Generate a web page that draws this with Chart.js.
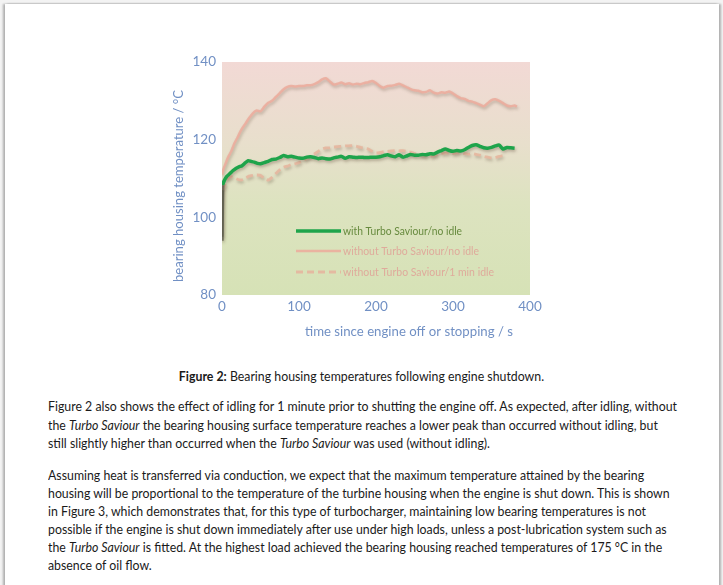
<!DOCTYPE html>
<html><head><meta charset="utf-8">
<script src="https://cdn.jsdelivr.net/npm/chart.js@4"></script>
<style>
html,body{margin:0;padding:0;width:723px;height:585px;overflow:hidden;background:#f3f3f3;}
#page{position:absolute;left:5px;top:4px;width:714px;height:600px;background:#fff;box-shadow:-2px 0 2px rgba(0,0,0,0.28),2px 0 2px rgba(0,0,0,0.28);}
#c{position:absolute;left:0;top:0;}
.t{position:absolute;left:48px;white-space:nowrap;font-family:Lato,'Open Sans',sans-serif;font-size:13.4px;color:#1a1a1a;line-height:18px;transform-origin:0 50%;}
.cap{left:0;width:723px;text-align:center;}
</style></head>
<body>
<div id="page"></div>
<canvas id="c" width="723" height="345"></canvas>
<div class="t cap" style="top:367px">Figure 2: Bearing housing temperatures following engine shutdown.</div>
<div class="t L" style="top:397px">Figure 2 also shows the effect of idling for 1 minute prior to shutting the engine off. As expected, after idling, without</div>
<div class="t L" style="top:415.5px">the <i>Turbo Saviour</i> the bearing housing surface temperature reaches a lower peak than occurred without idling, but</div>
<div class="t L" style="top:434px">still slightly higher than occurred when the <i>Turbo Saviour</i> was used (without idling).</div>
<div class="t L" style="top:466px">Assuming heat is transferred via conduction, we expect that the maximum temperature attained by the bearing</div>
<div class="t L" style="top:484px">housing will be proportional to the temperature of the turbine housing when the engine is shut down. This is shown</div>
<div class="t L" style="top:502px">in Figure 3, which demonstrates that, for this type of turbocharger, maintaining low bearing temperatures is not</div>
<div class="t L" style="top:520px">possible if the engine is shut down immediately after use under high loads, unless a post-lubrication system such as</div>
<div class="t L" style="top:538px">the <i>Turbo Saviour</i> is fitted. At the highest load achieved the bearing housing reached temperatures of 175 °C in the</div>
<div class="t L" style="top:556px">absence of oil flow.</div>
<script>
// ---- data ----
const seriesLabels = ['with Turbo Saviour/no idle','without Turbo Saviour/no idle','without Turbo Saviour/1 min idle'];
const xTicks = [0,100,200,300,400];
const yTicks = [80,100,120,140];

const greenTime = [0,1,3,6,10,14,18,22,26,30,34,38,42,46,50,55,60,65,70,75,80,85,90,95,100,105,110,115,120,125,130,135,140,145,150,155,160,165,170,175,180,185,190,195,200,205,210,215,220,225,230,235,240,245,250,255,260,265,270,275,280,285,290,295,300,305,310,315,320,325,330,335,340,345,350,355,360,365,370,375,380];
const greenTemp = [94,108.3,109.5,110.5,111.2,112,112.6,113,113.3,114,114.6,114.4,114.2,113.9,113.8,114.1,114.4,114.9,115,115.4,115.9,115.6,115.7,115.5,115.3,115.2,115.5,115.6,115.4,115.1,115.3,115.1,115.0,115.3,115.5,115.7,115.2,115.6,115.5,115.4,115.5,115.4,115.4,115.5,115.5,115.6,115.9,116.1,115.8,115.6,116.1,115.5,115.8,116.2,116.0,116.0,116.2,116.1,116.4,116.3,116.8,117.2,117.6,117.2,117.0,117.2,117.1,117.4,118.0,118.5,118.7,118.3,117.9,117.8,118.0,118.4,118.6,117.6,118.0,117.9,117.8];

const pinkTime = [0,2,5,8,12,16,20,25,30,35,40,45,50,55,60,65,70,75,80,85,90,95,100,105,110,115,120,125,130,135,140,145,150,155,160,165,170,175,180,185,190,195,200,205,210,215,220,225,230,235,240,245,250,255,260,265,270,275,280,285,290,295,300,305,310,315,320,325,330,335,340,345,350,355,360,365,370,375,380,383];
const pinkTemp = [111,112.5,114,115.5,117,119,120.5,122.5,124,125.5,126.8,127.5,127.3,128.5,129.5,130,131,132,133,133.6,133.8,133.7,133.8,133.8,134,134,134.3,134.8,135.5,135.8,135,134.2,134.4,134.7,134.3,134.5,134.2,134.4,134.3,134.6,134.8,135.1,134.6,133.8,133.4,133.8,133.9,134.1,134.4,134.0,133.5,133.0,132.7,132.6,132.2,132.3,132.7,132.1,131.9,132.2,132.1,132.4,131.9,131.2,130.7,130.5,130.0,129.8,129.4,129.0,128.6,129.4,130.2,130.4,130.0,129.4,128.8,128.6,128.8,128.5];

const idleTime = [0,1,4,8,12,16,20,25,30,35,40,45,50,55,60,65,70,75,80,85,90,95,100,105,110,115,120,125,130,135,140,145,150,155,160,165,170,175,180,185,190,195,200,205,210,215,220,225,230,235,240,245,250,255,260,265,270,275,280,285,290,295,300,305,310,315,320,325,330,335,340,345,350,355,360,365];
const idleTemp = [95,107,108.5,110,110.5,110.2,109.8,109.6,110,110.6,110.8,110.9,110.8,110,109.6,110.3,111.3,112.2,112.9,113.2,113.6,113.8,114.1,114.6,115.2,115.7,116.3,117,117.6,117.9,117.9,118.1,118.2,118.3,118.4,118.4,118.5,118.3,118.0,117.8,117.6,117.0,116.6,116.7,116.9,117.0,117.1,117.2,117.1,117.2,117.0,116.8,116.4,116.2,116.0,115.8,115.7,115.9,116.2,116.4,116.6,116.5,116.4,116.6,116.6,116.4,116.3,116.4,116.2,116.0,115.7,115.5,115.3,115.4,115.7,115.9];

const xTitle = 'time since engine off or stopping / s';
const yTitle = 'bearing housing temperature / °C';

// ---- styling ----
const axisColor = '#7190c4';
const greenCol = '#1ea44b';
const pinkCol = 'rgba(236,170,155,0.85)';
const idleCol = 'rgba(230,182,158,0.9)';
const startCol = 'rgba(95,95,80,0.8)';
const pairs = (xs, ys) => xs.map((x, i) => ({x, y: ys[i]}));
const firstSeg = {borderColor: c => c.p0DataIndex === 0 ? startCol : undefined, borderDash: c => c.p0DataIndex === 0 ? [] : undefined};

const bgPlugin = {
  id: 'bg',
  beforeDatasetsDraw(chart) {
    const {ctx, chartArea: a} = chart;
    const g = ctx.createLinearGradient(0, a.top, 0, a.bottom);
    g.addColorStop(0, '#f2d9d5');
    g.addColorStop(0.35, '#e8dfcc');
    g.addColorStop(0.6, '#dde3c0');
    g.addColorStop(1, '#d6e2b6');
    ctx.save();
    ctx.fillStyle = g;
    ctx.fillRect(a.left, a.top, a.right - a.left, a.bottom - a.top);
    ctx.restore();
  }
};
const shadowPlugin = {
  id: 'shadow',
  beforeDatasetDraw(chart) {
    const ctx = chart.ctx;
    ctx.save();
    ctx.shadowColor = 'rgba(90,70,50,0.35)';
    ctx.shadowBlur = 3;
    ctx.shadowOffsetX = 1;
    ctx.shadowOffsetY = 2;
  },
  afterDatasetDraw(chart) { chart.ctx.restore(); }
};
const legendPlugin = {
  id: 'inlegend',
  afterDatasetsDraw(chart) {
    const {ctx, chartArea: a} = chart;
    const x0 = a.left + 74, x1 = a.left + 119, tx = a.left + 121;
    const ys = [a.top + 169, a.top + 189, a.top + 210];
    const textCols = ['#678a3e', '#dfaa9b', '#dfaa9b'];
    const widths = [119, 136, 151];
    ctx.save();
    ctx.font = '12px Lato, "Open Sans", sans-serif';
    ctx.textBaseline = 'middle';
    chart.data.datasets.forEach((ds, i) => {
      ctx.beginPath();
      ctx.strokeStyle = ds.borderColor;
      ctx.lineWidth = ds.borderWidth;
      ctx.setLineDash(ds.borderDash || []);
      ctx.moveTo(x0, ys[i]); ctx.lineTo(x1, ys[i]);
      ctx.stroke();
      ctx.setLineDash([]);
      ctx.fillStyle = textCols[i];
      const m = ctx.measureText(ds.label).width;
      ctx.save();
      ctx.translate(tx, ys[i]);
      ctx.scale(widths[i] / m, 1);
      ctx.fillText(ds.label, 0, 0);
      ctx.restore();
    });
    ctx.restore();
  }
};
const titlePlugin = {
  id: 'axtitles',
  afterDraw(chart) {
    const {ctx} = chart;
    ctx.save();
    ctx.fillStyle = axisColor;
    ctx.font = '14px Lato, "Open Sans", sans-serif';
    ctx.textAlign = 'center';
    ctx.textBaseline = 'middle';
    // x title
    let m = ctx.measureText(xTitle).width;
    ctx.save();
    ctx.translate(409, 331);
    ctx.scale(208 / m, 1);
    ctx.fillText(xTitle, 0, 0);
    ctx.restore();
    // y title
    m = ctx.measureText(yTitle).width;
    ctx.save();
    ctx.translate(178, 186);
    ctx.rotate(-Math.PI / 2);
    ctx.scale(192 / m, 1);
    ctx.fillText(yTitle, 0, 0);
    ctx.restore();
    ctx.restore();
  }
};

new Chart(document.getElementById('c'), {
  type: 'line',
  data: {
    datasets: [
      {label: seriesLabels[0], data: pairs(greenTime, greenTemp), borderColor: greenCol, borderWidth: 3.5, pointRadius: 0, tension: 0.2, segment: firstSeg},
      {label: seriesLabels[1], data: pairs(pinkTime, pinkTemp), borderColor: pinkCol, borderWidth: 2.5, pointRadius: 0, tension: 0.2},
      {label: seriesLabels[2], data: pairs(idleTime, idleTemp), borderColor: idleCol, borderWidth: 2.8, borderDash: [7, 4], pointRadius: 0, tension: 0.2, segment: firstSeg}
    ]
  },
  options: {
    responsive: false,
    animation: false,
    layout: {padding: {left: 165, right: 193, top: 62, bottom: 0}},
    plugins: {legend: {display: false}, tooltip: {enabled: false}},
    scales: {
      x: {
        type: 'linear', min: xTicks[0], max: xTicks[xTicks.length - 1],
        afterBuildTicks: s => { s.ticks = xTicks.map(v => ({value: v})); },
        afterFit: s => { s.height = 50; },
        grid: {display: false, drawTicks: false}, border: {display: false},
        ticks: {color: axisColor, padding: 4, font: {family: 'Lato', size: 13.5}},
        title: {display: false, text: xTitle}
      },
      y: {
        min: yTicks[0], max: yTicks[yTicks.length - 1],
        afterBuildTicks: s => { s.ticks = yTicks.map(v => ({value: v})); },
        afterFit: s => { s.width = 57; },
        grid: {display: false, drawTicks: false}, border: {display: false},
        ticks: {color: axisColor, padding: 6, font: {family: 'Lato', size: 13.5}},
        title: {display: false, text: yTitle}
      }
    }
  },
  plugins: [bgPlugin, shadowPlugin, legendPlugin, titlePlugin]
});

// caption bold prefix
const cap = document.querySelector('.cap');
cap.innerHTML = '<b>Figure 2:</b> Bearing housing temperatures following engine shutdown.';
// fit paragraph width to reference (first line spans ~48..677)
const lines = document.querySelectorAll('.L');
const w = lines[0].getBoundingClientRect().width;
const s = 629 / w;
lines.forEach(l => { l.style.transform = 'scaleX(' + s + ')'; });
cap.style.transform = 'scaleX(' + s + ')';
cap.style.transformOrigin = '361px 50%';
</script>
</body></html>
